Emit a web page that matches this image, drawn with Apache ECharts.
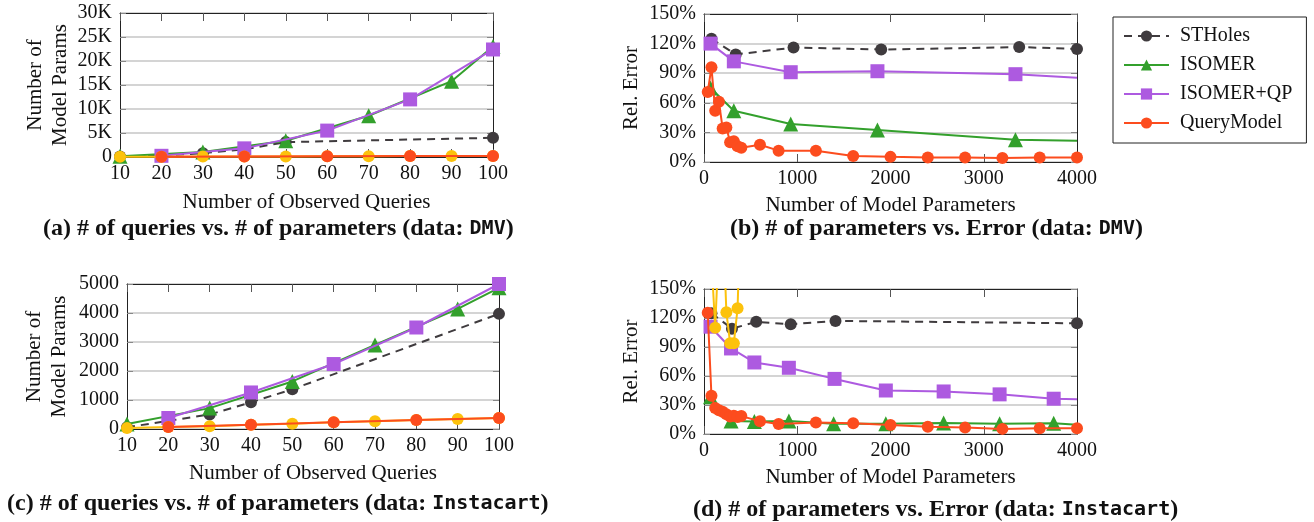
<!DOCTYPE html>
<html>
<head>
<meta charset="utf-8">
<script src="https://cdn.jsdelivr.net/npm/echarts@6/dist/echarts.min.js"></script>
<style>
html, body { margin: 0; padding: 0; background: #fff; }
#chart { width: 1314px; height: 522px; }
</style>
</head>
<body>
<div id="chart"></div>
<script>
// ---- data ----
// (a) DMV: # of observed queries vs. # of model params
const aSTHolesX = [10, 20, 30, 40, 50, 100];
const aSTHoles  = [100, 300, 800, 1600, 3100, 4000];
const aIsomerX  = [10, 30, 50, 70, 90, 100];
const aIsomer   = [150, 1050, 3400, 8600, 15800, 23000];
const aQpX      = [20, 40, 60, 80, 100];
const aQp       = [250, 1800, 5500, 12000, 22400];
const aQmX      = [20, 40, 60, 80, 100];
const aQm       = [60, 100, 150, 200, 230];
const aYellowX  = [10, 20, 30, 40, 50, 60, 70, 80, 90, 100];
const aYellow   = [40, 60, 80, 100, 120, 150, 170, 200, 210, 230];

// (b) DMV: # of params vs. rel. error (%)
const bSTHolesX = [80, 340, 960, 1900, 3380, 4000];
const bSTHoles  = [125, 109, 116, 114, 116.5, 114.5];
const bIsomerX  = [70, 320, 930, 1860, 3340, 4000];
const bIsomer   = [75, 52, 38.5, 32.5, 22.5, 21.5];
const bQpX      = [70, 320, 930, 1860, 3340, 4000];
const bQp       = [120, 102, 91, 92, 89, 85.5];
const bQmX      = [40, 80, 120, 160, 200, 240, 280, 320, 360, 400, 600, 800, 1200, 1600, 2000, 2400, 2800, 3200, 3600, 4000];
const bQm       = [71, 96, 52, 61, 34, 35, 20, 21, 16, 14.5, 17.5, 11.5, 11.5, 6, 5.2, 4.5, 4.5, 4, 4.5, 4.5];

// (c) Instacart: # of observed queries vs. # of model params
const cSTHolesX = [10, 20, 30, 40, 50, 100];
const cSTHoles  = [60, 280, 500, 920, 1370, 3970];
const cIsomerX  = [10, 30, 50, 70, 90, 100];
const cIsomer   = [170, 720, 1640, 2900, 4140, 4870];
const cQpX      = [20, 40, 60, 80, 100];
const cQp       = [380, 1260, 2240, 3500, 5000];
const cQmX      = [20, 40, 60, 80, 100];
const cQm       = [70, 150, 230, 310, 380];
const cYellowX  = [10, 20, 30, 40, 50, 60, 70, 80, 90, 100];
const cYellow   = [35, 70, 92, 150, 184, 230, 264, 310, 345, 380];

// (d) Instacart: # of params vs. rel. error (%)
const dSTHolesX = [80, 300, 560, 930, 1410, 4000];
const dSTHoles  = [125, 109, 116, 113.5, 117, 114.5];
const dIsomerX  = [70, 290, 540, 910, 1390, 1950, 2570, 3170, 3750, 4000];
const dIsomer   = [38.5, 13.5, 13, 13.5, 10.5, 10.5, 11.5, 10.5, 11, 9.5];
const dQpX      = [70, 290, 540, 910, 1400, 1950, 2570, 3170, 3750, 4000];
const dQp       = [111, 88.5, 74, 68.5, 57, 45, 44, 41, 36.5, 36];
const dQmX      = [40, 80, 120, 160, 200, 240, 280, 320, 360, 400, 600, 800, 1200, 1600, 2000, 2400, 2800, 3200, 3600, 4000];
const dQm       = [125.5, 39.5, 27, 24.5, 23, 20.5, 18, 19, 17.5, 18.5, 13.2, 10.3, 12, 11, 9.3, 7.6, 6.6, 5.3, 5.9, 5.9];
const dYellowX  = [40, 80, 120, 160, 200, 240, 280, 320, 360, 400];
const dYellow   = [230, 180, 110, 200, 230, 126, 94, 94, 130, 260];

const legendNames = ['STHoles', 'ISOMER', 'ISOMER+QP', 'QueryModel'];

// ---- style ----
const FONT = 'Liberation Serif';
const FS = 21;
const C_ST = '#3f3b3e';
const C_IS = '#33a02c';
const C_QP = '#ad5ae0';
const C_QM = '#fc4c1e';
const C_YL = '#fcc20c';

function zip(xs, ys, lastPlain) {
    return xs.map((x, i) => {
        if (lastPlain && i === xs.length - 1) return { value: [x, ys[i]], symbol: 'none' };
        return [x, ys[i]];
    });
}

const plain = v => String(v);

function bottomX(gi, min, max, interval, name, gap) {
    return {
        type: 'value', gridIndex: gi, position: 'bottom', min, max, interval,
        name, nameLocation: 'middle', nameGap: gap,
        nameTextStyle: { fontFamily: FONT, fontSize: FS, color: '#111' },
        axisLine: { show: true, onZero: false, lineStyle: { color: '#222', width: 1 } },
        axisTick: { show: true, inside: true, length: 8, lineStyle: { color: '#555' } },
        axisLabel: { fontFamily: FONT, fontSize: 20, color: '#111', margin: 7, formatter: plain },
        splitLine: { show: false }
    };
}
function topX(gi, min, max, interval) {
    return {
        type: 'value', gridIndex: gi, position: 'top', min, max, interval,
        axisLine: { show: true, onZero: false, lineStyle: { color: '#222', width: 1 } },
        axisTick: { show: true, inside: true, length: 8, lineStyle: { color: '#555' } },
        axisLabel: { show: false }, splitLine: { show: false }
    };
}
function leftY(gi, max, interval, fmt, name, gap) {
    return {
        type: 'value', gridIndex: gi, position: 'left', min: 0, max, interval,
        name, nameLocation: 'middle', nameGap: gap,
        nameTextStyle: { fontFamily: FONT, fontSize: FS, color: '#111', lineHeight: 25 },
        axisLine: { show: true, onZero: false, lineStyle: { color: '#222', width: 1 } },
        axisTick: { show: true, inside: true, length: 6, lineStyle: { color: '#888' } },
        axisLabel: { fontFamily: FONT, fontSize: 20, color: '#111', margin: 8, formatter: fmt },
        splitLine: { show: true, lineStyle: { color: '#d4d4d4', width: 2 } }
    };
}
function rightY(gi, max, interval) {
    return {
        type: 'value', gridIndex: gi, position: 'right', min: 0, max, interval,
        axisLine: { show: true, onZero: false, lineStyle: { color: '#222', width: 1 } },
        axisTick: { show: true, inside: true, length: 6, lineStyle: { color: '#888' } },
        axisLabel: { show: false }, splitLine: { show: false }
    };
}

function line(name, gi, data, color, symbol, size, dashed, z) {
    return {
        name, type: 'line', xAxisIndex: gi, yAxisIndex: gi, data,
        symbol, symbolSize: size, showAllSymbol: true, clip: true, z: z || 2,
        lineStyle: { color, width: 2, type: dashed ? [8, 6] : 'solid' },
        itemStyle: { color, borderWidth: 0 },
        emphasis: { disabled: true }
    };
}
function gridSeries(gi, d) {
    const out = [];
    out.push(line('STHoles', gi, zip(d.stX, d.st), C_ST, 'circle', 12, true, 2));
    out.push(line('ISOMER', gi, zip(d.isX, d.is, d.lastPlain), C_IS, 'triangle', 15, false, 3));
    out.push(line('ISOMER+QP', gi, zip(d.qpX, d.qp, d.lastPlain), C_QP, 'rect', 14, false, 4));
    if (d.ylX && !d.ylTop) out.push(line('', gi, zip(d.ylX, d.yl), C_YL, 'circle', 12, false, 5));
    out.push(line('QueryModel', gi, zip(d.qmX, d.qm), C_QM, 'circle', 12, false, 6));
    if (d.ylX && d.ylTop) out.push(line('', gi, zip(d.ylX, d.yl), C_YL, 'circle', 12, false, 7));
    return out;
}

const kFmt = v => v === 0 ? '0' : (v / 1000) + 'K';
const pFmt = v => v + '%';

const capRich = {
    b: { fontFamily: FONT, fontWeight: 'bold', fontSize: 24, color: '#111' },
    m: { fontFamily: 'DejaVu Sans Mono', fontWeight: 'bold', fontSize: 20, color: '#111' }
};
function caption(text, mono, left, top) {
    return {
        text: '{b|' + text + '}{m|' + mono + '}{b|)}',
        left, top, padding: 0,
        textStyle: { rich: capRich }
    };
}

const chart = echarts.init(document.getElementById('chart'), null, { renderer: 'canvas' });

const option = {
    animation: false,
    backgroundColor: '#fff',
    title: [
        caption('(a) # of queries vs. # of parameters (data: ', 'DMV', 43, 217),
        caption('(b) # of parameters vs. Error (data: ', 'DMV', 730, 217),
        caption('(c) # of queries vs. # of parameters (data: ', 'Instacart', 7, 492),
        caption('(d) # of parameters vs. Error (data: ', 'Instacart', 693, 498)
    ],
    legend: {
        data: legendNames,
        orient: 'vertical', left: 1113, top: 17,
        itemWidth: 45, itemHeight: 14, itemGap: 9,
        padding: [9, 14, 10, 10],
        borderColor: '#222', borderWidth: 1,
        textStyle: { fontFamily: FONT, fontSize: 20, color: '#111', lineHeight: 20, padding: [0, 0, 0, 6] }
    },
    grid: [
        { left: 120, top: 13, width: 373, height: 144 },
        { left: 704, top: 14, width: 373, height: 148 },
        { left: 127, top: 284, width: 372, height: 145 },
        { left: 704, top: 289, width: 373, height: 145 }
    ],
    xAxis: [
        bottomX(0, 10, 100, 10, 'Number of Observed Queries', 35),
        bottomX(1, 0, 4000, 1000, 'Number of Model Parameters', 33),
        bottomX(2, 10, 100, 10, 'Number of Observed Queries', 34),
        bottomX(3, 0, 4000, 1000, 'Number of Model Parameters', 33),
        topX(0, 10, 100, 10), topX(1, 0, 4000, 1000),
        topX(2, 10, 100, 10), topX(3, 0, 4000, 1000)
    ],
    yAxis: [
        leftY(0, 30000, 5000, kFmt, 'Number of\nModel Params', 47),
        leftY(1, 150, 30, pFmt, 'Rel. Error', 60),
        leftY(2, 5000, 1000, plain, 'Number of\nModel Params', 55),
        leftY(3, 150, 30, pFmt, 'Rel. Error', 60),
        rightY(0, 30000, 5000), rightY(1, 150, 30),
        rightY(2, 5000, 1000), rightY(3, 150, 30)
    ],
    series: [].concat(
        gridSeries(0, { stX: aSTHolesX, st: aSTHoles, isX: aIsomerX, is: aIsomer, qpX: aQpX, qp: aQp, qmX: aQmX, qm: aQm, ylX: aYellowX, yl: aYellow }),
        gridSeries(1, { stX: bSTHolesX, st: bSTHoles, isX: bIsomerX, is: bIsomer, qpX: bQpX, qp: bQp, qmX: bQmX, qm: bQm, lastPlain: true }),
        gridSeries(2, { stX: cSTHolesX, st: cSTHoles, isX: cIsomerX, is: cIsomer, qpX: cQpX, qp: cQp, qmX: cQmX, qm: cQm, ylX: cYellowX, yl: cYellow }),
        gridSeries(3, { stX: dSTHolesX, st: dSTHoles, isX: dIsomerX, is: dIsomer, qpX: dQpX, qp: dQp, qmX: dQmX, qm: dQm, ylX: dYellowX, yl: dYellow, ylTop: true, lastPlain: true })
    )
};

chart.setOption(option);
window.addEventListener('resize', () => chart.resize());
</script>
</body>
</html>
